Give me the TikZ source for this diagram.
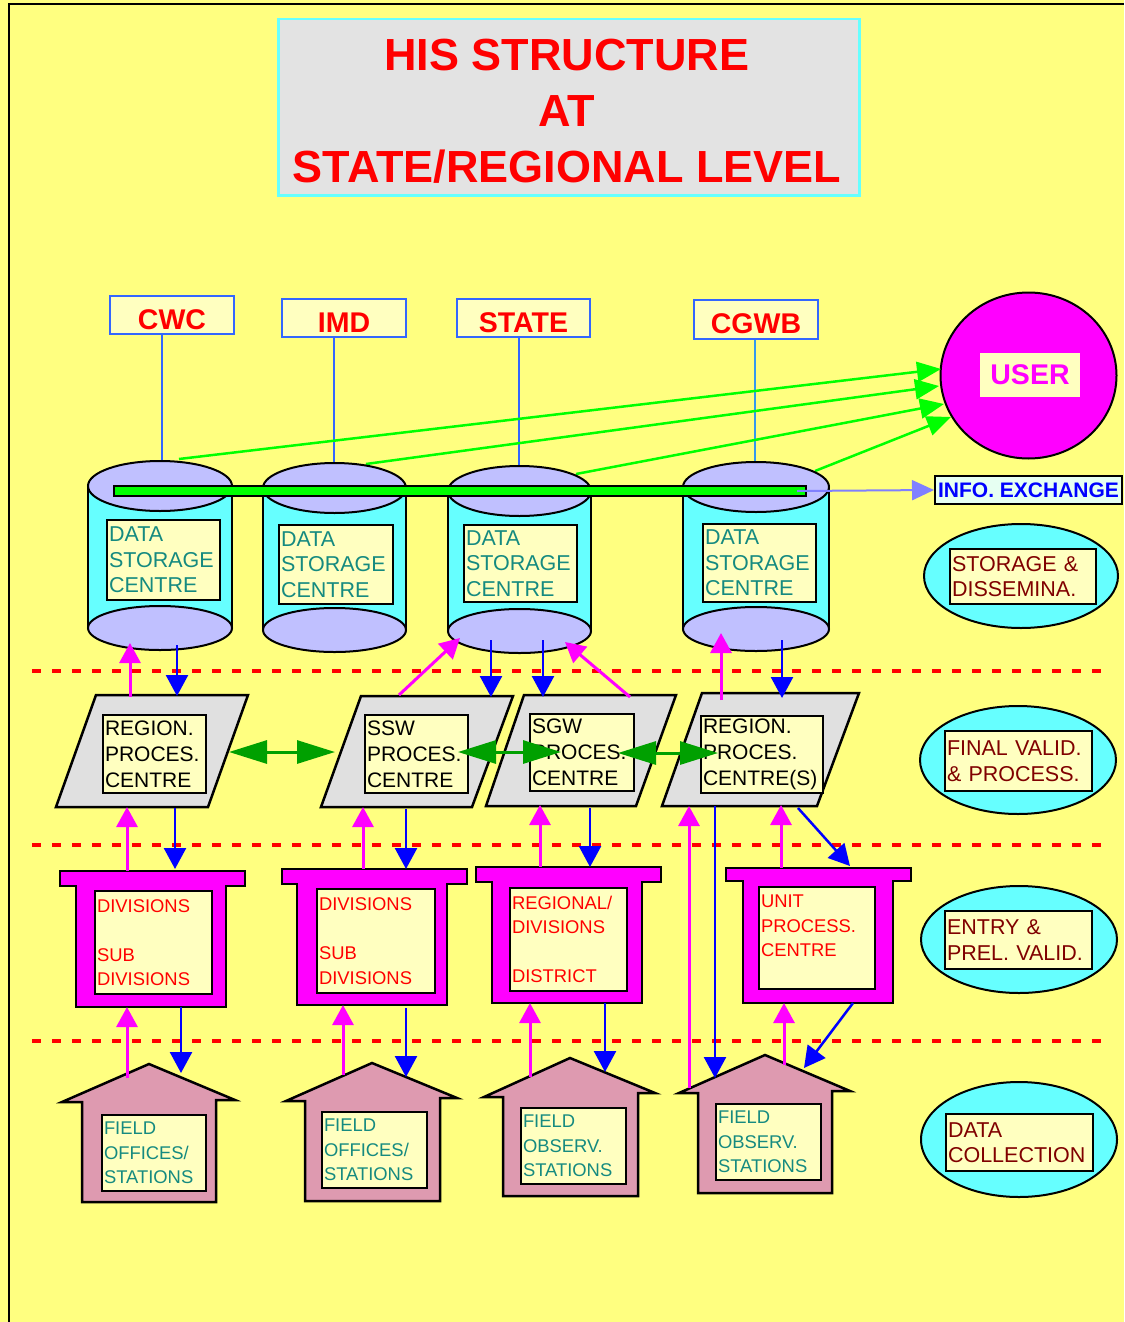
\documentclass[tikz,border=0pt]{standalone}
\usepackage{fontspec}
\setmainfont{Liberation Sans}
\usetikzlibrary{arrows.meta,shapes.geometric}
\definecolor{bgY}{HTML}{FFFF80}
\definecolor{lY}{HTML}{FFFFC0}
\definecolor{cyanF}{HTML}{66FFFF}
\definecolor{lav}{HTML}{C0C0FF}
\definecolor{grayF}{HTML}{E0E0E0}
\definecolor{mag}{HTML}{FF00FF}
\definecolor{pinkH}{HTML}{DE9AB0}
\definecolor{tealT}{HTML}{158A80}
\definecolor{dred}{HTML}{800000}
\definecolor{srcB}{HTML}{3366FF}
\definecolor{srcL}{HTML}{3399EE}
\definecolor{gGreen}{HTML}{00FF00}
\definecolor{dGreen}{HTML}{00A000}
\definecolor{infoF}{HTML}{E6FFF2}
\definecolor{infoA}{HTML}{8080FF}
\definecolor{titleG}{HTML}{E3E3E3}
\definecolor{titleB}{HTML}{66FFFF}
\newcommand\lblbox[8]{\node[lbox, minimum width=#4pt, minimum height=#5pt, text width=#6pt, #7] (#1) at (#2,#3) {#8};}
\newcommand\conn[6]{\coordinate (#2a) at (#3,#4); \coordinate (#2b) at (#5,#6); \draw[#1] (#2a) -- (#2b);}
\newcommand\cylshape[6]{%
  \filldraw[fill=cyanF, draw=black, line width=2pt] (#1,#5) rectangle (#2,#6);
  \filldraw[fill=lav, draw=black, line width=2pt] (#3,#6) ellipse [x radius=#4pt, y radius=22pt];
  \filldraw[fill=lav, draw=black, line width=2pt] (#3,#5) ellipse [x radius=#4pt, y radius=25pt];}
\newcommand\divshape[7]{%
  \filldraw[fill=mag, draw=black, line width=2.5pt, line join=miter]
  (#1,#3) -- (#2,#3) -- (#2,#4) -- (#6,#4) -- (#6,#7) -- (#5,#7) -- (#5,#4) -- (#1,#4) -- cycle;}
\newcommand\houseshape[9]{%
  \filldraw[fill=pinkH, draw=black, line width=2.5pt, line join=miter]
  (#1,#2) -- (#5,#6) -- (#8,#6) -- (#8,#9) -- (#7,#9) -- (#7,#4) -- (#3,#4) -- cycle;}
\begin{document}
\begin{tikzpicture}[x=1pt,y=-1pt,
  lbox/.style={draw=black, line width=2pt, fill=lY, anchor=north west, inner xsep=2pt, inner ysep=0pt, align=left},
  dsF/.style={font=\fontsize{21.5}{25.5}\selectfont, text=tealT},
  prF/.style={font=\fontsize{21}{26}\selectfont, text=black},
  dvF/.style={font=\fontsize{18.4}{24.5}\selectfont, text=red},
  fdF/.style={font=\fontsize{18.4}{24.5}\selectfont, text=tealT},
  sdF/.style={font=\fontsize{21.5}{25.5}\selectfont, text=dred},
  srcbox/.style={draw=srcB, line width=2pt, fill=lY, text=red, font=\fontsize{28.5}{30}\selectfont\bfseries, inner sep=0pt, text height=28.4pt, text depth=0pt},
  srcline/.style={srcB, line width=2pt},
  sideell/.style={ellipse, draw=black, line width=2pt, fill=cyanF, inner sep=0pt},
  garrow/.style={gGreen, line width=2.5pt, -{Triangle[length=24pt,width=20pt]}},
  marrow/.style={mag, line width=3pt, -{Triangle[length=20pt,width=21pt]}},
  barrow/.style={blue, line width=2.5pt, -{Triangle[length=21pt,width=22pt]}},
  dgarrow/.style={dGreen, line width=3pt, {Triangle[length=38pt,width=23pt]}-{Triangle[length=38pt,width=23pt]}},
  reddash/.style={red, line width=3.5pt, dash pattern=on 9pt off 11pt}]
\fill[bgY] (0,0) rectangle (1124,1322);
\useasboundingbox (0,0) rectangle (1124,1322);
\draw[black, line width=2.5pt] (9,1322) -- (9,4) -- (1124,4);

% title
\node[draw=titleB, line width=2.5pt, fill=titleG, minimum width=581pt, minimum height=176pt, inner sep=0pt, anchor=north west] (titlebox) at (277,18) {};
\node[font=\fontsize{45}{56}\selectfont\bfseries, text=red, align=center, inner sep=0pt] (title) at (567,111) {HIS STRUCTURE\\AT\\STATE/REGIONAL LEVEL};

% source boxes
\node[srcbox, minimum width=124pt, minimum height=38pt] (cwc) at (172,315) {CWC};
\node[srcbox, minimum width=124pt, minimum height=38pt] (imd) at (344,318) {IMD};
\node[srcbox, minimum width=133pt, minimum height=38pt] (state) at (523.5,318) {STATE};
\node[srcbox, minimum width=124pt, minimum height=39pt] (cgwb) at (756,319.5) {CGWB};
\coordinate (c1top) at (162,461);
\coordinate (c2top) at (334,463);
\coordinate (c3top) at (519,466);
\coordinate (c4top) at (755,462);
\draw[srcline] (c1top |- cwc.south) -- (c1top);
\draw[srcline] (c2top |- imd.south) -- (c2top);
\draw[srcline] (c3top |- state.south) -- (c3top);
\draw[srcL, line width=2pt] (c4top |- cgwb.south) -- (c4top);

% user
\node[ellipse, draw=black, line width=2pt, fill=mag, minimum width=176pt, minimum height=166pt, inner sep=0pt] (user) at (1028.5,375.5) {};
\node[fill=lY, minimum width=100pt, minimum height=44pt, inner sep=0pt, text=mag, font=\fontsize{28.5}{30}\selectfont\bfseries] (userlbl) at (1030,375) {USER};

% green lines to user
\coordinate (s1) at (179,459); \coordinate (u1) at (941,369);
\coordinate (s2) at (366,464); \coordinate (u2) at (939,386);
\coordinate (s3) at (576,474); \coordinate (u3) at (944,404);
\coordinate (s4) at (815,471); \coordinate (u4) at (951,417);
\draw[garrow] (s1) -- (u1);
\draw[garrow] (s2) -- (u2);
\draw[garrow] (s3) -- (u3);
\draw[garrow] (s4) -- (u4);

% cylinders
\cylshape{88}{232}{160}{72}{486}{628}
\cylshape{263}{406}{334.5}{71.5}{488}{630}
\cylshape{448}{591}{519.5}{71.5}{491}{631}
\cylshape{683}{829}{756}{73}{487}{629}
\lblbox{ds1}{106}{519}{113}{80}{109}{dsF}{DATA\\STORAGE\\CENTRE}
\lblbox{ds2}{278}{524}{114}{79}{110}{dsF}{DATA\\STORAGE\\CENTRE}
\lblbox{ds3}{463}{524}{113}{77}{109}{dsF}{DATA\\STORAGE\\CENTRE}
\lblbox{ds4}{702}{523}{113}{78}{109}{dsF}{DATA\\STORAGE\\CENTRE}

% green bar and info exchange
\node[draw=black, fill=gGreen, line width=2pt, minimum width=692pt, minimum height=10pt, inner sep=0pt, anchor=west] (bar) at (113,491) {};
\node[draw=black, line width=2pt, fill=infoF, text=blue, font=\fontsize{21}{22}\selectfont\bfseries, minimum width=187pt, minimum height=28pt, inner sep=0pt] (info) at (1028.5,490) {INFO. EXCHANGE};
\draw[infoA, line width=2pt, -{Triangle[length=22pt,width=20pt]}] ([xshift=-10pt]bar.east) -- (info.west);

% side ellipses
\node[sideell, minimum width=194pt, minimum height=104pt] (sdE) at (1021,576) {};
\lblbox{sd}{949}{548}{146}{55}{142}{sdF}{STORAGE \&\\DISSEMINA.}
\node[sideell, minimum width=196pt, minimum height=108pt] (fvE) at (1018,760) {};
\lblbox{fv}{944}{730}{147}{60}{143}{sdF}{FINAL VALID.\\\& PROCESS.}
\node[sideell, minimum width=196pt, minimum height=107pt] (epE) at (1019,939.5) {};
\lblbox{ep}{944}{910}{147}{58}{143}{sdF}{ENTRY \&\\PREL. VALID.}
\node[sideell, minimum width=196pt, minimum height=115pt] (dcE) at (1019,1139.5) {};
\lblbox{dc}{945}{1113}{147}{57}{143}{sdF}{DATA\\COLLECTION}

% dashed separators
\draw[reddash] (32,671) -- (1110,671);
\draw[reddash] (32,845) -- (1110,845);
\draw[reddash] (32,1041) -- (1110,1041);

% processing centres
\filldraw[fill=grayF, draw=black, line width=2.5pt] (96,695) -- (248,695) -- (208,807) -- (56,807) -- cycle;
\filldraw[fill=grayF, draw=black, line width=2.5pt] (361,696) -- (513,696) -- (472,807) -- (321,807) -- cycle;
\filldraw[fill=grayF, draw=black, line width=2.5pt] (524,695) -- (676,695) -- (636,806) -- (486,806) -- cycle;
\filldraw[fill=grayF, draw=black, line width=2.5pt] (702,693) -- (859,693) -- (817,806) -- (662,806) -- cycle;
\lblbox{pr1}{102}{714}{103}{78}{99}{prF}{REGION.\\PROCES.\\CENTRE}
\lblbox{pr2}{364}{714}{103}{78}{99}{prF}{SSW\\PROCES.\\CENTRE}
\lblbox{pr3}{529}{713}{104}{77}{100}{prF}{SGW\\PROCES.\\CENTRE}
\lblbox{pr4}{700}{715}{122}{77}{118}{prF}{REGION.\\PROCES.\\CENTRE(S)}

% divisions
\divshape{60}{245}{871}{886}{76}{226}{1007}
\divshape{282}{467}{869}{884}{297}{447}{1005}
\divshape{476}{661}{867}{882}{492}{642}{1003}
\divshape{726}{911}{868}{881}{743}{893}{1003}
\lblbox{dv1}{94}{890}{117}{103}{113}{dvF}{DIVISIONS\\\mbox{}\\SUB\\DIVISIONS}
\lblbox{dv2}{316}{888}{118}{104}{114}{dvF}{DIVISIONS\\\mbox{}\\SUB\\DIVISIONS}
\lblbox{dv3}{509}{887}{117}{103}{113}{dvF}{REGIONAL/\\DIVISIONS\\\mbox{}\\DISTRICT}
\lblbox{dv4}{758}{886}{116}{102}{112}{dvF}{UNIT\\PROCESS.\\CENTRE\\\mbox{}}

% houses
\houseshape{149}{1064}{62}{1102}{235}{1100}{82}{216}{1202}
\houseshape{372}{1063}{286}{1101}{457}{1098}{305}{440}{1201}
\houseshape{570}{1058}{484}{1097}{655}{1093}{503}{638}{1196}
\houseshape{765}{1055}{679}{1093}{850}{1091}{698}{832}{1193}
\lblbox{fo1}{101}{1114}{104}{76}{100}{fdF}{FIELD\\OFFICES/\\STATIONS}
\lblbox{fo2}{321}{1111}{105}{76}{101}{fdF}{FIELD\\OFFICES/\\STATIONS}
\lblbox{fo3}{520}{1107}{105}{76}{101}{fdF}{FIELD\\OBSERV.\\STATIONS}
\lblbox{fo4}{715}{1103}{105}{76}{101}{fdF}{FIELD\\OBSERV.\\STATIONS}

% connectors: storage <-> processing
\conn{marrow}{mA}{130}{697}{130}{643}
\conn{barrow}{bA}{177}{645}{177}{696}
\conn{marrow}{mB}{399}{695}{460}{638}
\conn{barrow}{bB}{491}{640}{491}{697}
\conn{barrow}{bC}{543}{640}{543}{697}
\conn{marrow}{mC}{630}{697}{565}{642}
\conn{marrow}{mD}{721}{700}{721}{633}
\conn{barrow}{bD}{782}{640}{782}{698}
% processing <-> divisions
\conn{marrow}{mE}{127}{871}{127}{807}
\conn{barrow}{bE}{175}{808}{175}{869}
\conn{marrow}{mF}{363}{869}{363}{807}
\conn{barrow}{bF}{406}{809}{406}{869}
\conn{marrow}{mG}{540}{867}{540}{805}
\conn{barrow}{bG}{590}{808}{590}{867}
\conn{marrow}{mH}{781}{868}{781}{805}
\conn{barrow}{bH}{798}{808}{850}{866}
\conn{marrow}{mI}{689}{1088}{689}{806}
\conn{barrow}{bI}{715}{806}{715}{1078}
% divisions <-> field
\conn{marrow}{mJ}{127}{1078}{127}{1007}
\conn{barrow}{bJ}{181}{1007}{181}{1073}
\conn{marrow}{mK}{343}{1075}{343}{1005}
\conn{barrow}{bK}{406}{1008}{406}{1077}
\conn{marrow}{mL}{530}{1077}{530}{1003}
\conn{barrow}{bL}{605}{1003}{605}{1072}
\conn{marrow}{mM}{784}{1065}{784}{1003}
\conn{barrow}{bM}{853}{1003}{804}{1068}

% exchange between processing centres
\conn{dgarrow}{gA}{229}{752}{335}{752}
\conn{dgarrow}{gB}{458}{752}{561}{752}
\conn{dgarrow}{gC}{618}{753}{718}{753}
\end{tikzpicture}
\end{document}
